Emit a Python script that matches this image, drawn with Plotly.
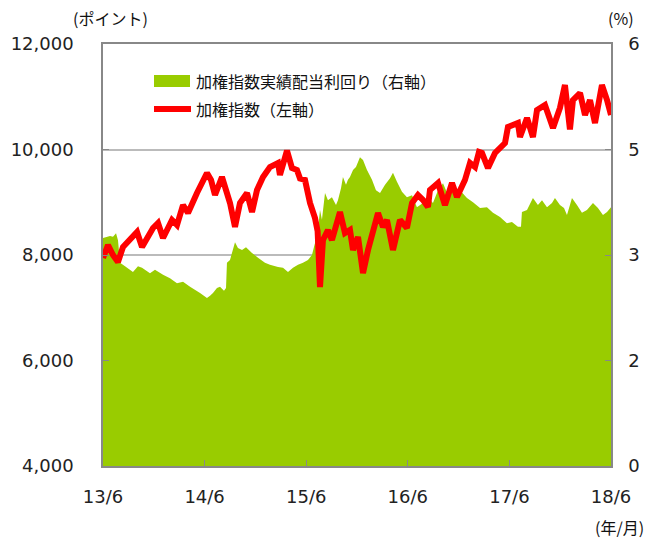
import plotly.graph_objects as go

# months elapsed since 2013/6 (x position in time)
idx_month = [0, 0.35, 0.59, 1.18, 1.77, 2.36, 3.19, 4.02, 4.61, 5.31, 5.91, 6.5, 7.09, 8.15, 8.74,
             9.45, 10.04, 11.1, 12.28, 12.76, 13.23, 14.05, 15.0, 15.59, 16.18, 17.01, 17.6, 18.19,
             18.9, 19.72, 20.67, 20.9, 21.73, 22.32, 22.91, 23.27, 23.86, 24.45, 25.04, 25.35, 25.63,
             25.98, 26.57, 27.04, 27.99, 28.58, 29.17, 29.53, 30.12, 30.71, 31.3, 32.48, 33.07, 33.54,
             34.25, 35.08, 35.9, 36.5, 37.2, 37.8, 38.38, 38.62, 39.57, 40.39, 41.22, 41.81, 42.75,
             43.35, 43.94, 44.41, 44.76, 45.47, 46.3, 47.48, 47.83, 49.01, 49.25, 50.08, 50.78, 51.26,
             52.2, 53.15, 53.97, 54.56, 55.15, 55.51, 56.34, 56.93, 57.52, 58.11, 58.93, 59.53, 60.0]
idx_value = [7943, 8095, 8190, 8000, 7867, 8152, 8284, 8436, 8152, 8379, 8512, 8607, 8322, 8664, 8569,
             8948, 8796, 9175, 9555, 9422, 9137, 9479, 8986, 8531, 8986, 9175, 8815, 9232,
             9479, 9668, 9744, 9517, 9980, 9649, 9611, 9450, 9422, 8986, 8700, 8450, 7393,
             8284, 8474, 8284, 8815, 8417, 8474, 8095, 8341, 7659, 8095, 8796, 8531, 8664,
             8095, 8664, 8512, 8986, 9137, 9043, 8910, 9232, 9365, 8948, 9365, 9100, 9422,
             9744, 9668, 9953, 9934, 9649, 9934, 10123, 10427, 10502, 10237, 10597, 10237, 10749,
             10844, 10408, 10787, 11223, 10380, 10938, 11071, 10654, 10938, 10502, 11223, 10938, 10654]

yld_month = [0, 0.83, 1.18, 1.54, 1.77, 2.01, 2.6, 3.54, 4.13, 4.61, 5.55, 6.14, 7.09, 7.91, 8.74,
             9.45, 10.28, 11.46, 12.28, 12.64, 12.99, 13.46, 13.82, 14.29, 14.53, 14.64, 15.0, 15.59,
             15.94, 16.42, 16.89, 17.6, 18.31, 19.13, 19.72, 20.67, 21.26, 21.85, 22.44, 23.03, 23.62,
             24.21, 24.68, 25.04, 25.39, 25.63, 25.86, 26.22, 26.57, 27.04, 27.52, 27.75, 28.11, 28.34,
             28.7, 28.93, 29.17, 29.53, 29.88, 30.35, 30.71, 31.18, 31.77, 32.24, 32.72, 33.31, 33.9,
             34.25, 34.72, 35.31, 35.9, 36.5, 37.08, 37.79, 38.38, 38.97, 39.57, 40.16, 40.75, 41.34,
             42.16, 42.99, 43.7, 44.53, 45.35, 46.06, 46.89, 47.71, 48.3, 49.01, 49.37, 49.48, 50.08,
             50.78, 51.37, 51.85, 52.44, 53.03, 53.38, 53.97, 54.45, 54.8, 55.15, 55.39, 55.98, 56.57,
             57.16, 57.87, 58.46, 59.05, 59.53, 60.0]
yld_value = [3.24, 3.27, 3.26, 3.31, 3.21, 2.89, 2.84, 2.76, 2.84, 2.82, 2.74, 2.79, 2.72, 2.67, 2.60,
             2.62, 2.55, 2.46, 2.39, 2.42, 2.46, 2.53, 2.55, 2.49, 2.53, 2.89, 2.93, 3.18,
             3.10, 3.07, 3.11, 3.03, 2.96, 2.89, 2.86, 2.83, 2.82, 2.76, 2.82, 2.86, 2.89,
             2.93, 3.00, 3.17, 3.36, 3.64, 3.50, 3.88, 3.78, 3.82, 3.71, 3.78, 3.95, 4.11,
             4.00, 4.07, 4.11, 4.21, 4.25, 4.39, 4.35, 4.21, 4.07, 3.92, 3.88, 4.00, 4.09,
             4.17, 4.04, 3.90, 3.82, 3.85, 3.68, 3.74, 3.82, 3.74, 3.92, 4.02, 3.85, 3.92,
             3.92, 3.81, 3.75, 3.67, 3.68, 3.60, 3.54, 3.45, 3.47, 3.40, 3.40, 3.61, 3.64,
             3.81, 3.71, 3.78, 3.68, 3.74, 3.81, 3.71, 3.67, 3.57, 3.71, 3.81, 3.71, 3.60,
             3.64, 3.74, 3.67, 3.57, 3.61, 3.68]

x_tickvals = [0, 12, 24, 36, 48, 60]
x_ticktext = ["13/6", "14/6", "15/6", "16/6", "17/6", "18/6"]
left_ticks = [4000, 6000, 8000, 10000, 12000]
right_tickvals = [0, 1.5, 3, 4.5, 6]
right_ticktext = ["0", "2", "3", "5", "6"]

yield_name = "加権指数実績配当利回り（右軸）"
index_name = "加権指数（左軸）"

GREEN = "#99CC00"
RED = "#FF0000"
AX = "#888888"
NUMFONT = dict(family="DejaVu Sans", size=18, color="#222222")
JPFONT = "Noto Sans CJK JP"

fig = go.Figure()
fig.add_trace(go.Scatter(x=yld_month, y=yld_value, mode="none", fill="tozeroy",
                         fillcolor=GREEN, yaxis="y", name=yield_name, showlegend=False))
fig.add_trace(go.Scatter(x=idx_month, y=idx_value, mode="lines",
                         line=dict(color=RED, width=6), yaxis="y2", name=index_name,
                         showlegend=False))

W, H = 648, 543
L, R, T, B = 103, 611, 44, 466


def px(x):
    return (x - L) / (R - L)


def py(y):
    return (B - y) / (B - T)


fig.update_layout(
    width=W, height=H,
    margin=dict(l=L, r=W - R, t=T, b=H - B, autoexpand=False),
    paper_bgcolor="white", plot_bgcolor="white",
    xaxis=dict(range=[0, 60], tickvals=x_tickvals, ticktext=x_ticktext,
               showline=True, linecolor=AX, linewidth=1.5, mirror=True,
               ticks="inside", ticklen=6, tickcolor=AX, tickwidth=1,
               showgrid=False, zeroline=False, tickfont=NUMFONT, ticklabelstandoff=14,
               automargin=False),
    yaxis=dict(range=[0, 6], side="right", tickvals=right_tickvals, ticktext=right_ticktext,
               showline=True, linecolor=AX, linewidth=1.5,
               ticks="inside", ticklen=6, tickcolor=AX,
               showgrid=True, gridcolor="#BBBBBB", gridwidth=1.5, zeroline=False,
               tickfont=NUMFONT, ticklabelstandoff=12, automargin=False),
    yaxis2=dict(range=[4000, 12000], side="left", overlaying="y", tickvals=left_ticks,
                tickformat=",", showline=True, linecolor=AX, linewidth=1.5,
                ticks="inside", ticklen=6, tickcolor=AX,
                showgrid=False, zeroline=False, tickfont=NUMFONT, ticklabelstandoff=24,
                automargin=False),
    showlegend=False,
)

# legend drawn manually
fig.add_shape(type="rect", xref="paper", yref="paper",
              x0=px(154), x1=px(190), y0=py(87), y1=py(75),
              fillcolor=GREEN, line=dict(width=0))
fig.add_shape(type="line", xref="paper", yref="paper",
              x0=px(154), x1=px(191), y0=py(109), y1=py(109),
              line=dict(color=RED, width=6))
fig.add_annotation(xref="paper", yref="paper", x=px(194), y=py(81), text=yield_name,
                   showarrow=False, xanchor="left", yanchor="middle",
                   font=dict(family=JPFONT, size=16, color="#111111"))
fig.add_annotation(xref="paper", yref="paper", x=px(194), y=py(109), text=index_name,
                   showarrow=False, xanchor="left", yanchor="middle",
                   font=dict(family=JPFONT, size=16, color="#111111"))

# unit labels
fig.add_annotation(xref="paper", yref="paper", x=px(110), y=py(18), text="(ポイント)",
                   showarrow=False, xanchor="center", yanchor="middle",
                   font=dict(family=JPFONT, size=16, color="#111111"))
fig.add_annotation(xref="paper", yref="paper", x=px(621), y=py(18), text="(%)",
                   showarrow=False, xanchor="center", yanchor="middle",
                   font=dict(family=JPFONT, size=16, color="#111111"))
fig.add_annotation(xref="paper", yref="paper", x=px(646), y=py(527), text="(年/月)",
                   showarrow=False, xanchor="right", yanchor="middle",
                   font=dict(family=JPFONT, size=16, color="#111111"))

fig.write_html("out.html", config={"displayModeBar": False},
               post_script="document.body.style.margin='0';document.body.style.padding='0';")
